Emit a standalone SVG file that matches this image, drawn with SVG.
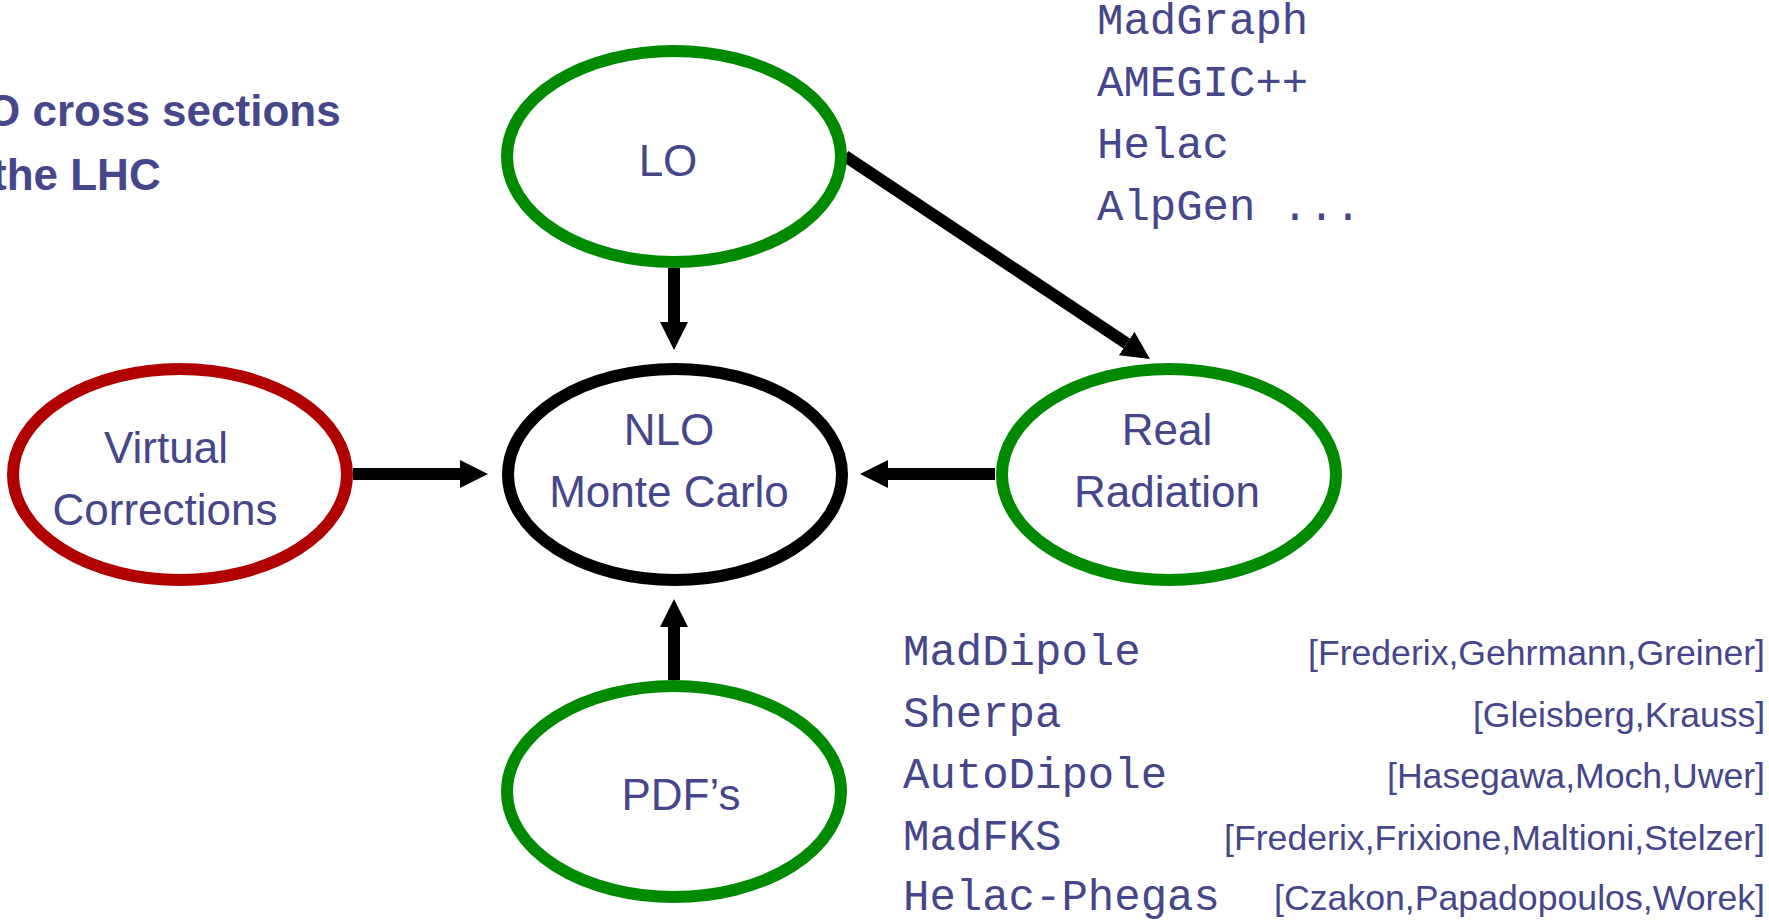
<svg xmlns="http://www.w3.org/2000/svg" width="1769" height="920" viewBox="0 0 1769 920">
<style>
.node{fill:#ffffff;stroke-width:12}
.green{stroke:#008a00}
.red{stroke:#b00000}
.black{stroke:#000000}
.lbl{font-family:"Liberation Sans",Arial,sans-serif;font-size:44px;fill:#46468a;text-anchor:middle}
.title{font-family:"Liberation Sans",Arial,sans-serif;font-size:44px;font-weight:bold;fill:#46468a}
.mono{font-family:"Liberation Mono","Courier New",monospace;font-size:44px;fill:#46468a}
.cite{font-family:"Liberation Sans",Arial,sans-serif;font-size:35px;fill:#46468a;text-anchor:end}
.conn{stroke:#000000;stroke-width:12;fill:none;marker-end:url(#head)}
</style>
<defs>
<marker id="head" markerUnits="userSpaceOnUse" markerWidth="28" markerHeight="28" viewBox="0 0 28 28" refX="0" refY="14" orient="auto">
<path d="M0,0 L28,14 L0,28 Z" fill="#000000"/>
</marker>
</defs>
<rect width="1769" height="920" fill="#ffffff"/>
<g id="title">
<text class="title" x="-14" y="126">O cross sections</text>
<text class="title" x="-8" y="190">the LHC</text>
</g>
<g id="connectors">
<line class="conn" x1="674" y1="268" x2="674" y2="322"/>
<line class="conn" x1="845" y1="156" x2="1126.7" y2="343.5"/>
<line class="conn" x1="353" y1="474" x2="460" y2="474"/>
<line class="conn" x1="995" y1="474" x2="888" y2="474"/>
<line class="conn" x1="674" y1="680" x2="674" y2="627"/>
</g>
<g id="node-lo">
<ellipse class="node green" cx="674" cy="156.5" rx="167" ry="105.5"/>
<text class="lbl" x="668" y="176">LO</text>
</g>
<g id="node-virtual">
<ellipse class="node red" cx="180" cy="474.5" rx="167" ry="105.5"/>
<text class="lbl" x="166" y="463">Virtual</text>
<text class="lbl" x="165" y="525">Corrections</text>
</g>
<g id="node-nlo">
<ellipse class="node black" cx="675" cy="474.5" rx="167" ry="105.5"/>
<text class="lbl" x="669" y="445">NLO</text>
<text class="lbl" x="669" y="507">Monte Carlo</text>
</g>
<g id="node-real">
<ellipse class="node green" cx="1169" cy="474.5" rx="167" ry="105.5"/>
<text class="lbl" x="1167" y="445">Real</text>
<text class="lbl" x="1167" y="507">Radiation</text>
</g>
<g id="node-pdf">
<ellipse class="node green" cx="674" cy="791.5" rx="167" ry="105.5"/>
<text class="lbl" x="681" y="810">PDF’s</text>
</g>
<g id="lo-tools">
<text class="mono" x="1097" y="34">MadGraph</text>
<text class="mono" x="1097" y="96">AMEGIC++</text>
<text class="mono" x="1097" y="158">Helac</text>
<text class="mono" x="1097" y="220">AlpGen ...</text>
</g>
<g id="real-tools">
<text class="mono" x="903" y="665">MadDipole</text>
<text class="mono" x="903" y="727">Sherpa</text>
<text class="mono" x="903" y="788">AutoDipole</text>
<text class="mono" x="903" y="850">MadFKS</text>
<text class="mono" x="903" y="910">Helac-Phegas</text>
<text class="cite" x="1765" y="665" textLength="457" lengthAdjust="spacingAndGlyphs">[Frederix,Gehrmann,Greiner]</text>
<text class="cite" x="1765" y="727" textLength="292" lengthAdjust="spacingAndGlyphs">[Gleisberg,Krauss]</text>
<text class="cite" x="1765" y="788" textLength="378" lengthAdjust="spacingAndGlyphs">[Hasegawa,Moch,Uwer]</text>
<text class="cite" x="1765" y="850" textLength="541" lengthAdjust="spacingAndGlyphs">[Frederix,Frixione,Maltioni,Stelzer]</text>
<text class="cite" x="1765" y="910" textLength="491" lengthAdjust="spacingAndGlyphs">[Czakon,Papadopoulos,Worek]</text>
</g>
</svg>
